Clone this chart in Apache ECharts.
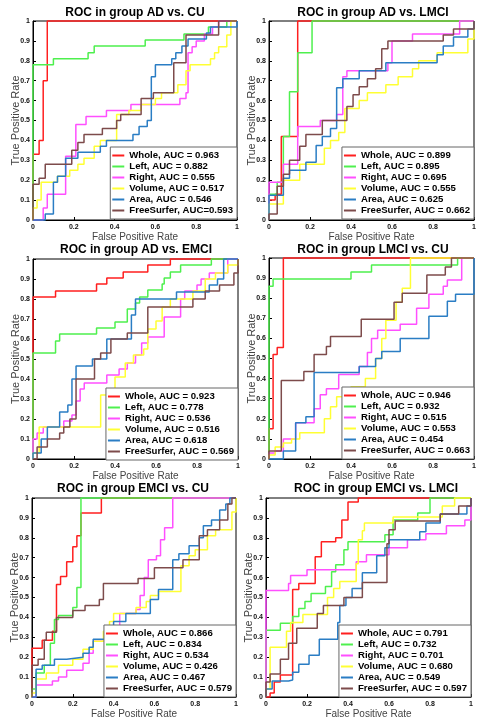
<!DOCTYPE html>
<html><head><meta charset="utf-8">
<script src="https://cdn.jsdelivr.net/npm/echarts@6/dist/echarts.min.js"></script>
<style>html,body{margin:0;padding:0;background:#fff}#c{width:484px;height:727px}</style>
</head><body><div id="c"></div><script>
// ---------- titles / legend names ----------
const titles = ['ROC in group AD vs. CU','ROC in group AD vs. LMCI','ROC in group AD vs. EMCI','ROC in group LMCI vs. CU','ROC in group EMCI vs. CU','ROC in group EMCI vs. LMCI'];
const names_adcu = ['Whole, AUC = 0.963','Left, AUC = 0.882','Right, AUC = 0.555','Volume, AUC = 0.517','Area, AUC = 0.546','FreeSurfer, AUC=0.593'];
const names_adlmci = ['Whole, AUC = 0.899','Left, AUC = 0.895','Right, AUC = 0.695','Volume, AUC = 0.555','Area, AUC = 0.625','FreeSurfer, AUC = 0.662'];
const names_ademci = ['Whole, AUC = 0.923','Left, AUC = 0.778','Right, AUC = 0.536','Volume, AUC = 0.516','Area, AUC = 0.618','FreeSurfer, AUC = 0.569'];
const names_lmcicu = ['Whole, AUC = 0.946','Left, AUC = 0.932','Right, AUC = 0.515','Volume, AUC = 0.553','Area, AUC = 0.454','FreeSurfer, AUC = 0.663'];
const names_emcicu = ['Whole, AUC = 0.866','Left, AUC = 0.834','Right, AUC = 0.534','Volume, AUC = 0.426','Area, AUC = 0.467','FreeSurfer, AUC = 0.579'];
const names_emcilmci = ['Whole, AUC = 0.791','Left, AUC = 0.732','Right, AUC = 0.701','Volume, AUC = 0.680','Area, AUC = 0.549','FreeSurfer, AUC = 0.597'];

// ---------- ROC curves: [FPR, TPR] step points ----------
// AD vs CU
const adcu_whole = [[0,0],[0,0.33],[0.03,0.4],[0.05,0.7],[0.07,1],[1,1]];
const adcu_left = [[0,0],[0,0.78],[0.1,0.81],[0.27,0.84],[0.3,0.875],[0.55,0.905],[0.74,0.935],[0.86,0.97],[0.95,1],[1,1]];
const adcu_right = [[0,0],[0.05,0.06],[0.07,0.13],[0.16,0.32],[0.21,0.48],[0.26,0.52],[0.36,0.55],[0.48,0.58],[0.72,0.61],[0.75,0.64],[0.76,0.84],[0.78,0.87],[0.8,0.9],[0.84,0.935],[0.88,0.97],[0.91,1],[1,1]];
const adcu_volume = [[0,0],[0,0.06],[0.02,0.1],[0.04,0.19],[0.12,0.22],[0.18,0.25],[0.22,0.28],[0.25,0.31],[0.3,0.37],[0.33,0.4],[0.41,0.53],[0.47,0.55],[0.53,0.58],[0.6,0.61],[0.63,0.64],[0.71,0.68],[0.75,0.75],[0.77,0.78],[0.87,0.81],[0.89,0.84],[0.91,0.87],[0.95,0.93],[0.97,1],[1,1]];
const adcu_area = [[0,0],[0.06,0],[0.06,0.03],[0.1,0.19],[0.12,0.22],[0.16,0.31],[0.22,0.34],[0.33,0.37],[0.36,0.4],[0.49,0.43],[0.52,0.47],[0.56,0.5],[0.58,0.72],[0.6,0.78],[0.68,0.81],[0.7,0.84],[0.73,0.875],[0.76,0.91],[0.85,0.94],[0.87,0.97],[1,1]];
const adcu_fs = [[0,0],[0,0.18],[0.03,0.21],[0.06,0.28],[0.19,0.35],[0.22,0.39],[0.25,0.43],[0.34,0.46],[0.41,0.5],[0.43,0.53],[0.53,0.61],[0.59,0.64],[0.69,0.79],[0.75,0.93],[0.91,1],[1,1]];
// AD vs LMCI
const adlmci_whole = [[0,0],[0,0.1],[0.03,0.13],[0.06,0.42],[0.14,1],[1,1]];
const adlmci_left = [[0,0],[0,0.13],[0.04,0.19],[0.07,0.42],[0.1,0.645],[0.14,0.84],[0.21,1],[1,1]];
const adlmci_right = [[0,0],[0,0.19],[0.07,0.28],[0.14,0.47],[0.25,0.5],[0.33,0.53],[0.36,0.72],[0.38,0.75],[0.58,0.79],[0.6,0.9],[0.7,0.935],[0.93,1],[1,1]];
const adlmci_volume = [[0,0],[0,0.08],[0.07,0.2],[0.15,0.28],[0.27,0.36],[0.3,0.4],[0.34,0.44],[0.37,0.56],[0.44,0.6],[0.48,0.64],[0.57,0.68],[0.63,0.72],[0.7,0.76],[0.73,0.8],[0.82,0.84],[0.97,0.91],[1,1]];
const adlmci_area = [[0,0],[0,0.125],[0.07,0.21],[0.1,0.25],[0.18,0.29],[0.23,0.375],[0.26,0.42],[0.3,0.46],[0.33,0.665],[0.36,0.71],[0.44,0.75],[0.57,0.79],[0.82,0.83],[0.85,0.875],[0.9,0.92],[0.97,0.96],[1,1]];
const adlmci_fs = [[0,0],[0,0.03],[0.04,0.17],[0.07,0.23],[0.1,0.3],[0.15,0.37],[0.18,0.43],[0.26,0.5],[0.38,0.57],[0.41,0.63],[0.44,0.67],[0.48,0.71],[0.52,0.76],[0.55,0.86],[0.58,0.9],[0.85,0.93],[0.9,0.96],[1,1]];
// AD vs EMCI
const ademci_whole = [[0,0],[0,0.81],[0.11,0.84],[0.31,0.875],[0.36,0.905],[0.44,0.935],[0.56,0.97],[0.67,1],[1,1]];
const ademci_left = [[0,0],[0,0.53],[0.11,0.59],[0.13,0.625],[0.31,0.655],[0.4,0.685],[0.46,0.75],[0.5,0.78],[0.52,0.81],[0.56,0.845],[0.63,0.875],[0.64,0.905],[0.67,0.935],[0.72,0.97],[0.87,1],[1,1]];
const ademci_right = [[0,0],[0,0.1],[0.02,0.13],[0.05,0.16],[0.15,0.19],[0.19,0.22],[0.21,0.29],[0.23,0.35],[0.25,0.38],[0.36,0.42],[0.42,0.45],[0.46,0.48],[0.5,0.52],[0.53,0.58],[0.56,0.61],[0.64,0.71],[0.72,0.8],[0.74,0.84],[0.8,0.87],[0.82,0.9],[0.86,0.93],[0.95,1],[1,1]];
const ademci_volume = [[0,0],[0,0.03],[0.03,0.16],[0.33,0.32],[0.36,0.35],[0.4,0.41],[0.45,0.48],[0.49,0.52],[0.54,0.55],[0.56,0.65],[0.6,0.69],[0.63,0.76],[0.67,0.8],[0.78,0.84],[0.84,0.9],[0.89,0.93],[0.95,0.97],[1,1]];
const ademci_area = [[0,0],[0,0.03],[0.04,0.1],[0.07,0.16],[0.13,0.235],[0.17,0.27],[0.19,0.4],[0.21,0.465],[0.29,0.5],[0.36,0.6],[0.48,0.72],[0.5,0.8],[0.7,0.835],[0.86,0.87],[0.9,0.9],[0.93,1],[1,1]];
const ademci_fs = [[0,0],[0.02,0],[0.02,0.06],[0.07,0.1],[0.13,0.13],[0.15,0.16],[0.18,0.2],[0.21,0.4],[0.3,0.5],[0.33,0.53],[0.38,0.6],[0.46,0.63],[0.56,0.76],[0.78,0.8],[0.84,0.84],[0.91,0.87],[0.98,0.93],[1,1]];
// LMCI vs CU
const lmcicu_whole = [[0,0],[0,0.15],[0.02,0.52],[0.04,0.555],[0.07,1],[1,1]];
const lmcicu_left = [[0,0],[0,0.86],[0.02,0.895],[0.4,0.93],[0.5,0.965],[0.92,1],[1,1]];
const lmcicu_right = [[0,0],[0,0.03],[0.03,0.04],[0.07,0.1],[0.13,0.18],[0.22,0.25],[0.25,0.32],[0.28,0.35],[0.34,0.42],[0.44,0.46],[0.48,0.53],[0.5,0.6],[0.53,0.64],[0.64,0.67],[0.72,0.75],[0.78,0.82],[0.85,0.86],[0.87,0.89],[0.94,1],[1,1]];
const lmcicu_volume = [[0,0],[0,0.02],[0.03,0.06],[0.07,0.08],[0.11,0.1],[0.15,0.13],[0.27,0.2],[0.3,0.26],[0.33,0.31],[0.4,0.36],[0.47,0.4],[0.52,0.5],[0.55,0.6],[0.57,0.69],[0.62,0.78],[0.65,0.85],[0.69,1],[1,1]];
const lmcicu_area = [[0,0],[0.07,0],[0.07,0.04],[0.13,0.18],[0.18,0.21],[0.22,0.43],[0.44,0.46],[0.52,0.5],[0.55,0.535],[0.64,0.6],[0.78,0.71],[0.87,0.785],[0.91,0.82],[1,1]];
const lmcicu_fs = [[0,0],[0,0.04],[0.06,0.39],[0.17,0.435],[0.22,0.52],[0.28,0.56],[0.3,0.61],[0.45,0.695],[0.61,0.78],[0.65,0.825],[0.77,0.915],[0.86,0.955],[0.89,1],[1,1]];
// EMCI vs CU
const emcicu_whole = [[0,0],[0,0.245],[0.05,0.285],[0.1,0.33],[0.12,0.565],[0.14,0.605],[0.17,0.68],[0.2,0.755],[0.22,0.81],[0.24,0.925],[0.34,1],[1,1]];
const emcicu_left = [[0,0],[0,0.04],[0.02,0.12],[0.06,0.16],[0.09,0.27],[0.11,0.39],[0.13,0.41],[0.2,0.45],[0.22,0.55],[0.24,1],[1,1]];
const emcicu_right = [[0,0],[0.02,0],[0.02,0.06],[0.1,0.08],[0.13,0.1],[0.17,0.135],[0.25,0.17],[0.28,0.22],[0.3,0.28],[0.38,0.32],[0.43,0.42],[0.51,0.44],[0.53,0.51],[0.55,0.6],[0.57,0.69],[0.61,0.71],[0.63,0.79],[0.65,0.85],[0.69,1],[1,1]];
const emcicu_volume = [[0,0],[0,0.02],[0.02,0.09],[0.07,0.12],[0.13,0.16],[0.2,0.19],[0.25,0.24],[0.3,0.28],[0.35,0.33],[0.38,0.38],[0.4,0.42],[0.51,0.45],[0.56,0.48],[0.58,0.51],[0.62,0.53],[0.73,0.66],[0.77,0.71],[0.8,0.74],[0.86,0.81],[0.9,0.84],[0.98,0.93],[1,1]];
const emcicu_area = [[0,0],[0.02,0],[0.02,0.14],[0.05,0.16],[0.11,0.19],[0.17,0.2],[0.25,0.22],[0.28,0.25],[0.3,0.29],[0.4,0.38],[0.46,0.42],[0.58,0.49],[0.62,0.54],[0.69,0.69],[0.72,0.72],[0.77,0.76],[0.82,0.8],[0.84,0.86],[0.88,0.89],[0.92,0.94],[0.95,0.97],[0.97,1],[1,1]];
const emcicu_fs = [[0,0],[0,0.16],[0.03,0.19],[0.06,0.285],[0.07,0.325],[0.12,0.4],[0.2,0.435],[0.26,0.46],[0.33,0.49],[0.35,0.57],[0.52,0.595],[0.6,0.65],[0.74,0.69],[0.82,0.81],[0.86,0.84],[0.92,0.89],[0.96,0.97],[0.98,1],[1,1]];
// EMCI vs LMCI
const emcilmci_whole = [[0,0],[0.02,0],[0.02,0.02],[0.04,0.075],[0.07,0.11],[0.13,0.54],[0.16,0.57],[0.24,0.705],[0.27,0.78],[0.34,0.8],[0.37,0.89],[0.4,0.98],[0.45,1],[1,1]];
const emcilmci_left = [[0,0],[0,0.335],[0.07,0.37],[0.13,0.405],[0.16,0.445],[0.19,0.48],[0.22,0.52],[0.29,0.555],[0.32,0.63],[0.34,0.665],[0.38,0.74],[0.4,0.78],[0.58,0.815],[0.62,0.89],[0.74,0.925],[0.8,1],[1,1]];
const emcilmci_right = [[0,0],[0,0.535],[0.11,0.57],[0.12,0.61],[0.2,0.64],[0.44,0.68],[0.49,0.715],[0.6,0.75],[0.69,0.79],[0.78,0.82],[0.88,0.86],[0.97,0.89],[1,1]];
const emcilmci_volume = [[0,0],[0,0.04],[0.02,0.25],[0.1,0.33],[0.12,0.375],[0.18,0.415],[0.3,0.5],[0.33,0.545],[0.36,0.58],[0.44,0.67],[0.45,0.79],[0.47,0.835],[0.48,0.875],[0.62,0.905],[0.86,0.96],[0.92,1],[1,1]];
const emcilmci_area = [[0,0],[0,0.04],[0.03,0.08],[0.11,0.085],[0.13,0.125],[0.16,0.165],[0.21,0.21],[0.26,0.29],[0.35,0.375],[0.36,0.46],[0.39,0.5],[0.42,0.545],[0.47,0.625],[0.54,0.71],[0.58,0.75],[0.6,0.79],[0.75,0.83],[0.78,0.875],[0.85,0.92],[0.98,0.96],[1,1]];
const emcilmci_fs = [[0,0],[0,0.075],[0.02,0.115],[0.07,0.19],[0.11,0.27],[0.15,0.345],[0.25,0.42],[0.28,0.46],[0.38,0.5],[0.47,0.575],[0.59,0.77],[0.6,0.84],[0.63,0.885],[0.85,0.92],[0.94,0.96],[1,1]];

const panelNames = [names_adcu, names_adlmci, names_ademci, names_lmcicu, names_emcicu, names_emcilmci];
const panelCurves = [
  [adcu_whole, adcu_left, adcu_right, adcu_volume, adcu_area, adcu_fs],
  [adlmci_whole, adlmci_left, adlmci_right, adlmci_volume, adlmci_area, adlmci_fs],
  [ademci_whole, ademci_left, ademci_right, ademci_volume, ademci_area, ademci_fs],
  [lmcicu_whole, lmcicu_left, lmcicu_right, lmcicu_volume, lmcicu_area, lmcicu_fs],
  [emcicu_whole, emcicu_left, emcicu_right, emcicu_volume, emcicu_area, emcicu_fs],
  [emcilmci_whole, emcilmci_left, emcilmci_right, emcilmci_volume, emcilmci_area, emcilmci_fs]
];

// ---------- layout / style ----------
const FONT = '"Liberation Sans", Arial, Helvetica, sans-serif';
const colors = ['#ff1f1f', '#4ef04e', '#ff4fff', '#ffff33', '#2a7dc4', '#7d4b4b'];
const gridBoxes = [
  {left: 33, top: 21, width: 204, height: 199},
  {left: 269, top: 21, width: 205, height: 199},
  {left: 33, top: 259, width: 205, height: 200},
  {left: 269, top: 258, width: 205, height: 201},
  {left: 32, top: 498, width: 204, height: 199},
  {left: 266, top: 498, width: 205, height: 199}
];
const titlePos = [[135, 7], [373, 7], [136, 244], [373, 244], [133, 483], [376, 483]];
const legendPos = [[247, 147], [10, 147], [246, 388], [10, 387], [248, 625], [13, 625]];

const option = {
  animation: false,
  backgroundColor: '#fff',
  title: [], grid: [], xAxis: [], yAxis: [], legend: [], series: []
};

for (let p = 0; p < 6; p++) {
  option.title.push({
    text: titles[p], left: titlePos[p][0], top: titlePos[p][1], textAlign: 'center', padding: 0,
    textStyle: {fontFamily: FONT, fontSize: 12, fontWeight: 'bold', color: '#000'}
  });
  option.grid.push(Object.assign({show: true, borderColor: '#000', borderWidth: 1, backgroundColor: '#fff'}, gridBoxes[p]));
  option.xAxis.push({
    type: 'value', gridIndex: p, min: 0, max: 1, interval: 0.2,
    name: 'False Positive Rate', nameLocation: 'middle', nameGap: 12, nameMoveOverlap: false,
    nameTextStyle: {fontFamily: FONT, fontSize: 10, color: '#444'},
    axisLine: {show: true, lineStyle: {color: '#000', width: 1}},
    axisTick: {show: true, inside: true, length: 3, lineStyle: {color: '#000'}},
    axisLabel: {margin: 4, fontFamily: FONT, fontSize: 7, fontWeight: 'bold', color: '#111'},
    splitLine: {show: false}
  });
  option.yAxis.push({
    type: 'value', gridIndex: p, min: 0, max: 1, interval: 0.1,
    name: 'True Positive Rate', nameLocation: 'middle', nameGap: 12, nameMoveOverlap: false,
    nameTextStyle: {fontFamily: FONT, fontSize: 11, color: '#444'},
    axisLine: {show: true, lineStyle: {color: '#000', width: 1}},
    axisTick: {show: true, inside: true, length: 3, lineStyle: {color: '#000'}},
    axisLabel: {margin: 3, fontFamily: FONT, fontSize: 7, fontWeight: 'bold', color: '#111'},
    splitLine: {show: false}
  });
  option.legend.push({
    data: panelNames[p], orient: 'vertical', right: legendPos[p][0], top: legendPos[p][1],
    icon: 'rect', itemWidth: 12, itemHeight: 2, itemGap: 0, padding: [3, 4, 3, 2],
    itemStyle: {borderWidth: 0},
    borderColor: '#666', borderWidth: 1, backgroundColor: '#fff', selectedMode: false,
    textStyle: {fontFamily: FONT, fontSize: 9.6, fontWeight: 'bold', color: '#000', lineHeight: 11}
  });
  for (let s = 0; s < 6; s++) {
    option.series.push({
      type: 'line', name: panelNames[p][s], xAxisIndex: p, yAxisIndex: p,
      data: panelCurves[p][s], step: 'end', symbol: 'none', clip: false, silent: true,
      color: colors[s], lineStyle: {width: 1.5, color: colors[s]}, itemStyle: {color: colors[s]}, z: 2 + s * 0.01
    });
  }
}

const chart = echarts.init(document.getElementById('c'), null, {renderer: 'canvas'});
chart.setOption(option);
</script></body></html>
